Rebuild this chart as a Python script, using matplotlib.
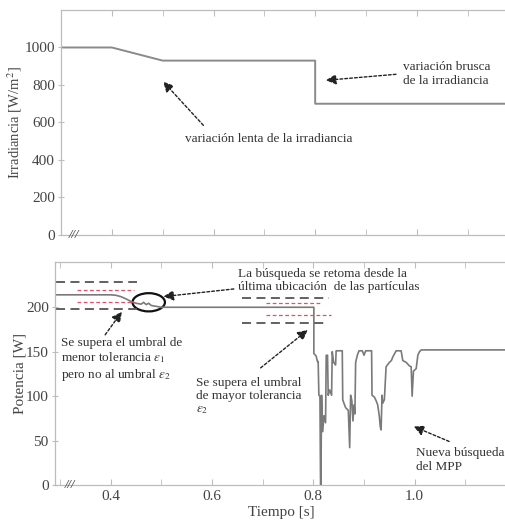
#!/usr/bin/env python3
"""Irradiance and PV power vs time (MPPT with PSO re-search)."""

import matplotlib

matplotlib.use("Agg")  # headless
import matplotlib.pyplot as plt
from matplotlib.patches import Ellipse
from matplotlib.ticker import MultipleLocator

# --- data --------------------------------------------------------------
irr_t = [0.30, 0.40, 0.50, 0.80, 0.80, 1.20]
irr_v = [1000, 1000, 930, 930, 700, 700]

pow_t = [0.29, 0.40, 0.41, 0.42, 0.43, 0.44, 0.45, 0.46, 0.465, 0.47, 0.475,
         0.48, 0.49, 0.50,
         0.801, 0.801, 0.8056, 0.8080, 0.8095, 0.8109, 0.8130, 0.8142,
         0.8150, 0.8162, 0.8185, 0.8208, 0.8241, 0.8254, 0.8280, 0.8293,
         0.8321, 0.8360, 0.8373, 0.8400, 0.8439, 0.8450, 0.8571, 0.8580,
         0.8604, 0.8637, 0.8690, 0.8717, 0.8736, 0.8760, 0.8782, 0.8802,
         0.8820, 0.8835, 0.8868, 0.8901, 0.8967, 0.9000, 0.9034, 0.9150,
         0.9158, 0.9204, 0.9238, 0.9271, 0.9303, 0.9320, 0.9337, 0.9356,
         0.9370, 0.9402, 0.9436, 0.9501, 0.9540, 0.9568, 0.9634, 0.9733,
         0.9766, 0.9832, 0.9897, 0.9931, 0.9950, 0.9976, 1.0030, 1.0063,
         1.0095, 1.0129, 1.20]
pow_v = [214, 214, 213.5, 212, 209.5, 206.5, 204.5, 203.5, 205.5, 203, 204.5,
         202, 201, 200,
         200, 148, 145, 139, 139, 101, 100, 0,
         0, 101, 60, 78, 70, 146, 146, 101,
         107, 101, 150, 138, 135, 151, 151, 96,
         92, 87, 84, 42, 101, 95, 72, 90,
         80, 138, 146, 151, 151, 146, 151, 151,
         101, 99, 95, 90, 77, 66, 62, 101,
         92, 96, 133, 138, 140, 144, 151, 151,
         140, 138, 134, 133, 100, 128, 131, 146,
         150, 152, 152]

# threshold bands: level, start, end
dark_lvl = [228, 198, 210.8, 182]
dark_t0 = [0.292, 0.292, 0.660, 0.660]
dark_t1 = [0.452, 0.452, 0.831, 0.825]
red_lvl = [219.4, 205.6, 205.2, 191.7]
red_t0 = [0.333, 0.333, 0.706, 0.706]
red_t1 = [0.445, 0.445, 0.818, 0.835]

plt.rcParams["font.family"] = ["Liberation Serif", "DejaVu Serif"]
plt.rcParams["mathtext.fontset"] = "stix"

TXT = "#333333"
SPINE = "#bdbdbd"
LINE = "#7a7a7a"
ANN = 9.5


def style_axes(ax):
    for s in ax.spines.values():
        s.set_color(SPINE)
        s.set_linewidth(0.9)
    ax.tick_params(axis="x", which="both", direction="in", top=True,
                   color=SPINE, labelsize=11, labelcolor="#444444", length=4)
    ax.tick_params(axis="y", direction="inout", length=5, color=SPINE,
                   labelsize=11, labelcolor="#444444", pad=2)
    ax.xaxis.set_major_locator(MultipleLocator(0.2))
    ax.xaxis.set_minor_locator(MultipleLocator(0.1))


def dashed_arrow(ax, tail, head):
    ax.annotate("", xy=head, xytext=tail,
                arrowprops=dict(arrowstyle="-|>,head_length=0.6,head_width=0.3",
                                color="#222222", lw=1.0, ls=(0, (2.0, 1.5)),
                                shrinkA=0, shrinkB=0))


fig = plt.figure(figsize=(5.06, 5.23), dpi=100)
ax1 = fig.add_axes([0.1206, 0.5507, 0.882, 0.4302])
ax2 = fig.add_axes([0.1087, 0.0727, 0.894, 0.4273])

# --- irradiance ---------------------------------------------------------
ax1.plot(irr_t, irr_v, color="#8a8a8a", lw=1.4)
ax1.set_xlim(0.30, 1.178)
ax1.set_ylim(0, 1200)
ax1.set_yticks([0, 200, 400, 600, 800, 1000])
style_axes(ax1)
ax1.tick_params(axis="x", labelbottom=False)
ax1.set_ylabel("Irradiancia [W/m$^2$]", fontsize=10.5, color="#444444")
ax1.yaxis.set_label_coords(-0.083, 0.5)
ax1.text(0.018, 0.0, "///", transform=ax1.transAxes, fontsize=9,
         fontstyle="italic", color="#555555", va="center", ha="left",
         fontweight="bold")

ax1.text(0.972, 859, "variación brusca\nde la irradiancia", fontsize=ANN,
         color=TXT, ha="left", va="center", linespacing=1.15)
dashed_arrow(ax1, (0.959, 857), (0.821, 825))
ax1.text(0.709, 510, "variación lenta de la irradiancia", fontsize=ANN,
         color=TXT, ha="center", va="center")
dashed_arrow(ax1, (0.580, 585), (0.501, 818))

# --- power --------------------------------------------------------------
ax2.plot(pow_t, pow_v, color=LINE, lw=1.2)
ax2.hlines(dark_lvl, dark_t0, dark_t1, colors="#555555", lw=1.3,
           linestyles=(0, (5, 3)))
ax2.hlines(red_lvl, red_t0, red_t1, colors="#e0506a", lw=0.9,
           linestyles=(0, (3, 2)))
ax2.add_patch(Ellipse((0.475, 205.6), 0.064, 20.5, fill=False,
                      edgecolor="#111111", lw=1.6))
ax2.set_xlim(0.290, 1.183)
ax2.set_ylim(0, 251.5)
ax2.set_yticks([0, 50, 100, 150, 200])
style_axes(ax2)
ax2.xaxis.set_major_formatter(lambda v, p: f"{v:.1f}")
ax2.set_xticks([0.4, 0.6, 0.8, 1.0])
ax2.set_ylabel("Potencia [W]", fontsize=11, color="#444444")
ax2.yaxis.set_label_coords(-0.062, 0.5)
ax2.set_xlabel("Tiempo [s]", fontsize=11, color="#444444", labelpad=2)
ax2.text(0.022, 0.0, "///", transform=ax2.transAxes, fontsize=9,
         fontstyle="italic", color="#555555", va="center", ha="left",
         fontweight="bold")

ax2.text(0.651, 230, "La búsqueda se retoma desde la\núltima ubicación  de las partículas",
         fontsize=ANN, color=TXT, ha="left", va="center", linespacing=1.1)
dashed_arrow(ax2, (0.643, 220.6), (0.504, 212))
ax2.text(0.302, 140.8,
         "Se supera el umbral de\nmenor tolerancia $\\varepsilon_1$\npero no al umbral $\\varepsilon_2$",
         fontsize=ANN, color=TXT, ha="left", va="center", linespacing=1.15)
dashed_arrow(ax2, (0.389, 169), (0.422, 195))
ax2.text(0.569, 99.8, "Se supera el umbral\nde mayor tolerancia\n$\\varepsilon_2$",
         fontsize=ANN, color=TXT, ha="left", va="center", linespacing=1.15)
dashed_arrow(ax2, (0.696, 131.8), (0.789, 174.5))
ax2.text(1.003, 28, "Nueva búsqueda\ndel MPP", fontsize=ANN, color=TXT,
         ha="left", va="center", linespacing=1.15)
dashed_arrow(ax2, (1.068, 49), (0.998, 65.8))

fig.savefig("out.png", dpi=100)
